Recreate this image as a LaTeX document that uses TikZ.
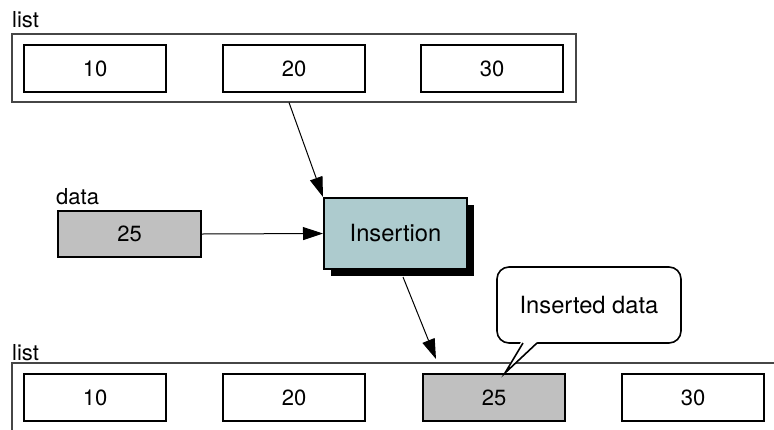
\documentclass[tikz,border=0pt]{standalone}
\usepackage{fontspec}
\setmainfont{TeX Gyre Heros}
\usetikzlibrary{arrows.meta,shadows,calc}
\definecolor{boxgray}{RGB}{192,192,192}
\definecolor{teal2}{RGB}{173,203,206}
\definecolor{outerline}{RGB}{70,70,70}
\begin{document}
\begin{tikzpicture}[x=1pt,y=-1pt,
  cell/.style={draw=black,line width=2pt,minimum width=142pt,minimum height=47pt,inner sep=0pt,font=\fontsize{22}{26}\selectfont},
  grcell/.style={cell,fill=boxgray},
  outer/.style={draw=outerline,line width=1.2pt,inner sep=0pt},
  lbl/.style={anchor=base west,inner sep=0pt,font=\fontsize{22}{26}\selectfont},
  arr/.style={line width=1pt,-{Triangle[length=20pt,width=13pt]}}]
\useasboundingbox (0,0) rectangle (774,429);
\clip (0,0) rectangle (774,429);
% top list
\node[lbl] (l1) at (12,27) {list};
\node[outer,minimum width=564pt,minimum height=68pt] (L1) at (294,68) {};
\node[cell] (t10) at (95,68.5) {10};
\node[cell] (t20) at (294,68.5) {20};
\node[cell] (t30) at (492,68.5) {30};
% data
\node[lbl] (ld) at (56,204) {data};
\node[grcell,minimum width=143pt,minimum height=46pt] (d25) at (129.5,234) {25};
% insertion
\node[draw=black,line width=2pt,fill=teal2,minimum width=143pt,minimum height=71pt,inner sep=0pt,
  font=\fontsize{23.7}{28}\selectfont,
  drop shadow={shadow xshift=7pt,shadow yshift=-7pt,fill=black,opacity=1}] (ins) at (395.5,233.5) {Insertion};
% bottom list
\node[lbl] (l2) at (12,360) {list};
\coordinate (b0) at (12,440);
\coordinate (b1) at (12,363);
\coordinate (b2) at (790,363);
\draw[outerline,line width=1.2pt] (b0) -- (b1) -- (b2);
\node[cell] (b10) at (95,397.5) {10};
\node[cell] (b20) at (294,397.5) {20};
\node[grcell] (b25) at (494,397.5) {25};
\node[cell] (b30) at (693,397.5) {30};
% arrows
\coordinate (a1s) at (289,102.5);
\draw[arr] (a1s) -- (ins.north west);
\draw[arr] (d25.east) -- (ins.west);
\coordinate (a3s) at (403,277);
\coordinate (a3e) at (436,359);
\draw[arr] (a3s) -- (a3e);
% callout
\node[draw=black,line width=1.6pt,fill=white,rounded corners=12pt,minimum width=184pt,minimum height=76pt,
  font=\fontsize{23.7}{28}\selectfont] (co) at (589,305) {Inserted data};
\coordinate (pa) at (523,343);
\coordinate (pb) at (537,343);
\coordinate (ptip) at (505,373);
\fill[white] (521.5,341) -- (538.5,341) -- (ptip) -- cycle;
\draw[line width=1.6pt,line join=miter] (pa) -- (ptip) -- (pb);
\end{tikzpicture}
\end{document}
